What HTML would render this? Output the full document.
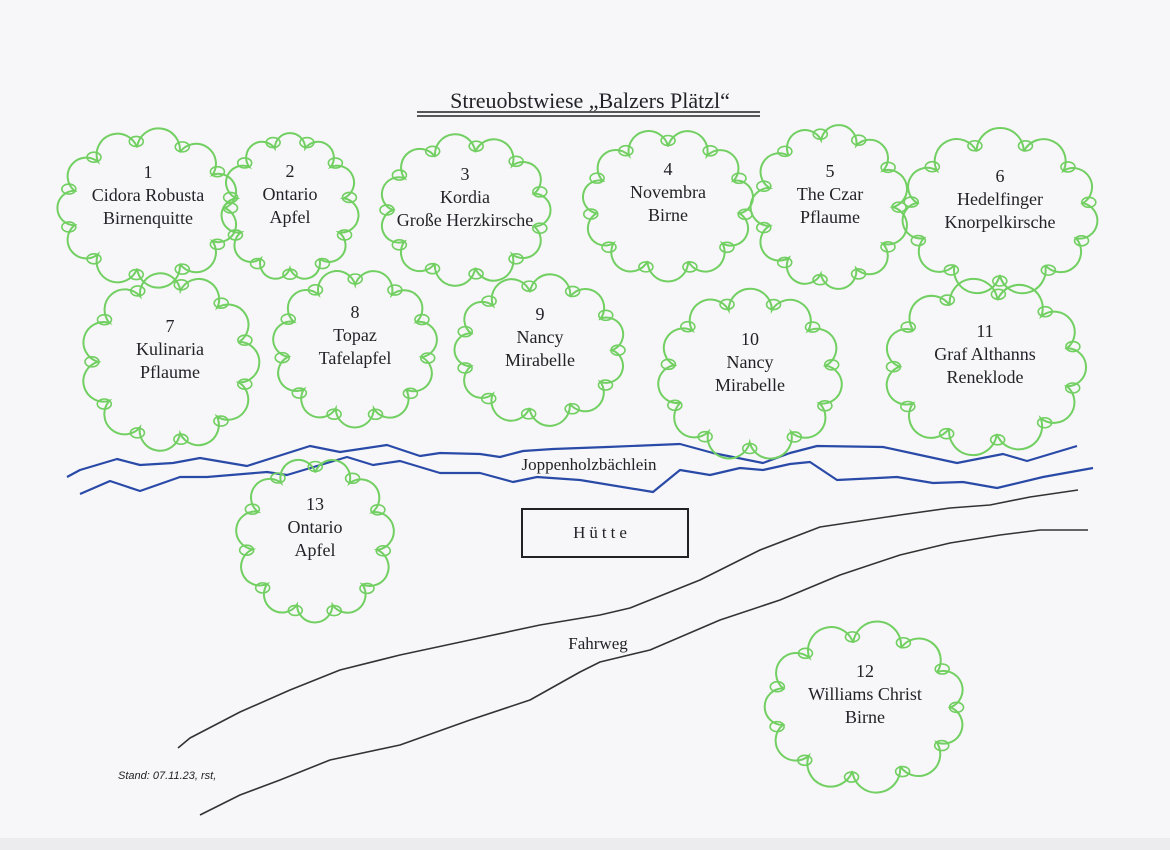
<!DOCTYPE html>
<html><head><meta charset="utf-8"><style>
html,body{margin:0;padding:0;background:#f7f7f9;}
svg{display:block}
text{font-family:"Liberation Serif",serif;fill:#222228;}
</style></head><body>
<svg id="s" width="1170" height="850" viewBox="0 0 1170 850" xmlns="http://www.w3.org/2000/svg">
<rect x="0" y="0" width="1170" height="850" fill="#f7f7f9"/>
<rect x="0" y="838" width="1170" height="12" fill="#ececef"/>
<text x="590" y="108" font-size="22" text-anchor="middle">Streuobstwiese „Balzers Plätzl“</text>
<line x1="417" y1="112" x2="760" y2="112" stroke="#222" stroke-width="1.6"/>
<line x1="417" y1="116" x2="760" y2="116" stroke="#222" stroke-width="1.6"/>
<g fill="none" stroke="#2a4aa8" stroke-width="2.2" stroke-linejoin="round">
<polyline points="67,477 80,470 117,459 140,465 173,463 200,458 247,466 310,446 340,452 387,445 420,456 440,453 480,454 500,457 523,451 553,449 607,447 680,444 713,453 763,463 790,453 817,446 883,447 920,455 957,463 1003,454 1027,461 1077,446"/>
<polyline points="80,494 110,481 140,491 180,477 207,477 267,472 287,475 347,457 373,465 400,461 440,473 480,473 513,482 537,477 580,480 653,492 680,470 710,475 740,468 763,470 790,464 810,462 837,480 897,477 933,483 963,482 997,488 1043,477 1093,468"/>
</g>
<g fill="none" stroke="#333" stroke-width="1.6" stroke-linejoin="round">
<polyline points="178,748 190,738 240,712 290,690 340,670 400,655 470,640 540,625 600,615 630,608 700,580 760,550 820,527 900,515 950,508 990,505 1030,497 1078,490"/>
<polyline points="200,815 240,795 280,780 330,760 400,745 470,720 530,700 580,672 600,662 650,650 720,620 780,600 840,575 900,555 950,543 1000,535 1040,530 1088,530"/>
</g>
<rect x="522" y="509" width="166" height="48" fill="none" stroke="#222" stroke-width="2"/>
<text x="602" y="538" font-size="17" text-anchor="middle" letter-spacing="4">Hütte</text>
<text x="589" y="470" font-size="17" text-anchor="middle">Joppenholzbächlein</text>
<text x="598" y="649" font-size="17" text-anchor="middle">Fahrweg</text>
<text x="118" y="779" font-size="11" font-style="italic" style="font-family:'Liberation Sans',sans-serif">Stand: 07.11.23, rst,</text>
<g id="trees" fill="none" stroke="#72cf62" stroke-width="2"></g>
<g id="labels" font-size="18" text-anchor="middle"></g>
</svg>
<script>
var T=[
[148,208,85,68,"1","Cidora Robusta","Birnenquitte"],
[290,207,60,68,"2","Ontario","Apfel"],
[465,210,80,65,"3","Kordia","Große Herzkirsche"],
[668,205,80,65,"4","Novembra","Birne"],
[830,207,70,75,"5","The Czar","Pflaume"],
[1000,212,93,70,"6","Hedelfinger","Knorpelkirsche"],
[170,362,80,80,"7","Kulinaria","Pflaume"],
[355,348,75,70,"8","Topaz","Tafelapfel"],
[540,350,80,65,"9","Nancy","Mirabelle"],
[750,375,85,75,"10","Nancy","Mirabelle"],
[985,367,95,75,"11","Graf  Althanns","Reneklode"],
[315,540,70,75,"13","Ontario","Apfel"],
[865,707,95,72,"12","Williams Christ","Birne"]];
var g=document.getElementById('trees'),L=document.getElementById('labels'),ns="http://www.w3.org/2000/svg";
T.forEach(function(t,k){
 var cx=t[0],cy=t[1],rx=t[2]*0.9,ry=t[3]*0.9,n=11,d="";
 for(var i=0;i<=n;i++){var a=i/n*2*Math.PI+k;var x=cx+rx*Math.cos(a),y=cy+ry*Math.sin(a);
  if(i==0)d+="M"+x.toFixed(1)+" "+y.toFixed(1);else{var r=(rx+ry)/n*0.85;d+=" A"+r.toFixed(1)+" "+r.toFixed(1)+" 0 0 1 "+x.toFixed(1)+" "+y.toFixed(1);}
  if(i<n){var lx=x+6*Math.cos(a),ly=y+6*Math.sin(a);var c=document.createElementNS(ns,'ellipse');c.setAttribute('cx',lx);c.setAttribute('cy',ly);c.setAttribute('rx',7);c.setAttribute('ry',5);c.setAttribute('stroke-width',1.6);g.appendChild(c);}
 }
 var p=document.createElementNS(ns,'path');p.setAttribute('d',d);g.appendChild(p);
 [t[4],t[5],t[6]].forEach(function(s,j){var e=document.createElementNS(ns,'text');e.setAttribute('x',cx);e.setAttribute('y',cy-30+j*23);e.textContent=s;L.appendChild(e);});
});
</script>
</body></html>
